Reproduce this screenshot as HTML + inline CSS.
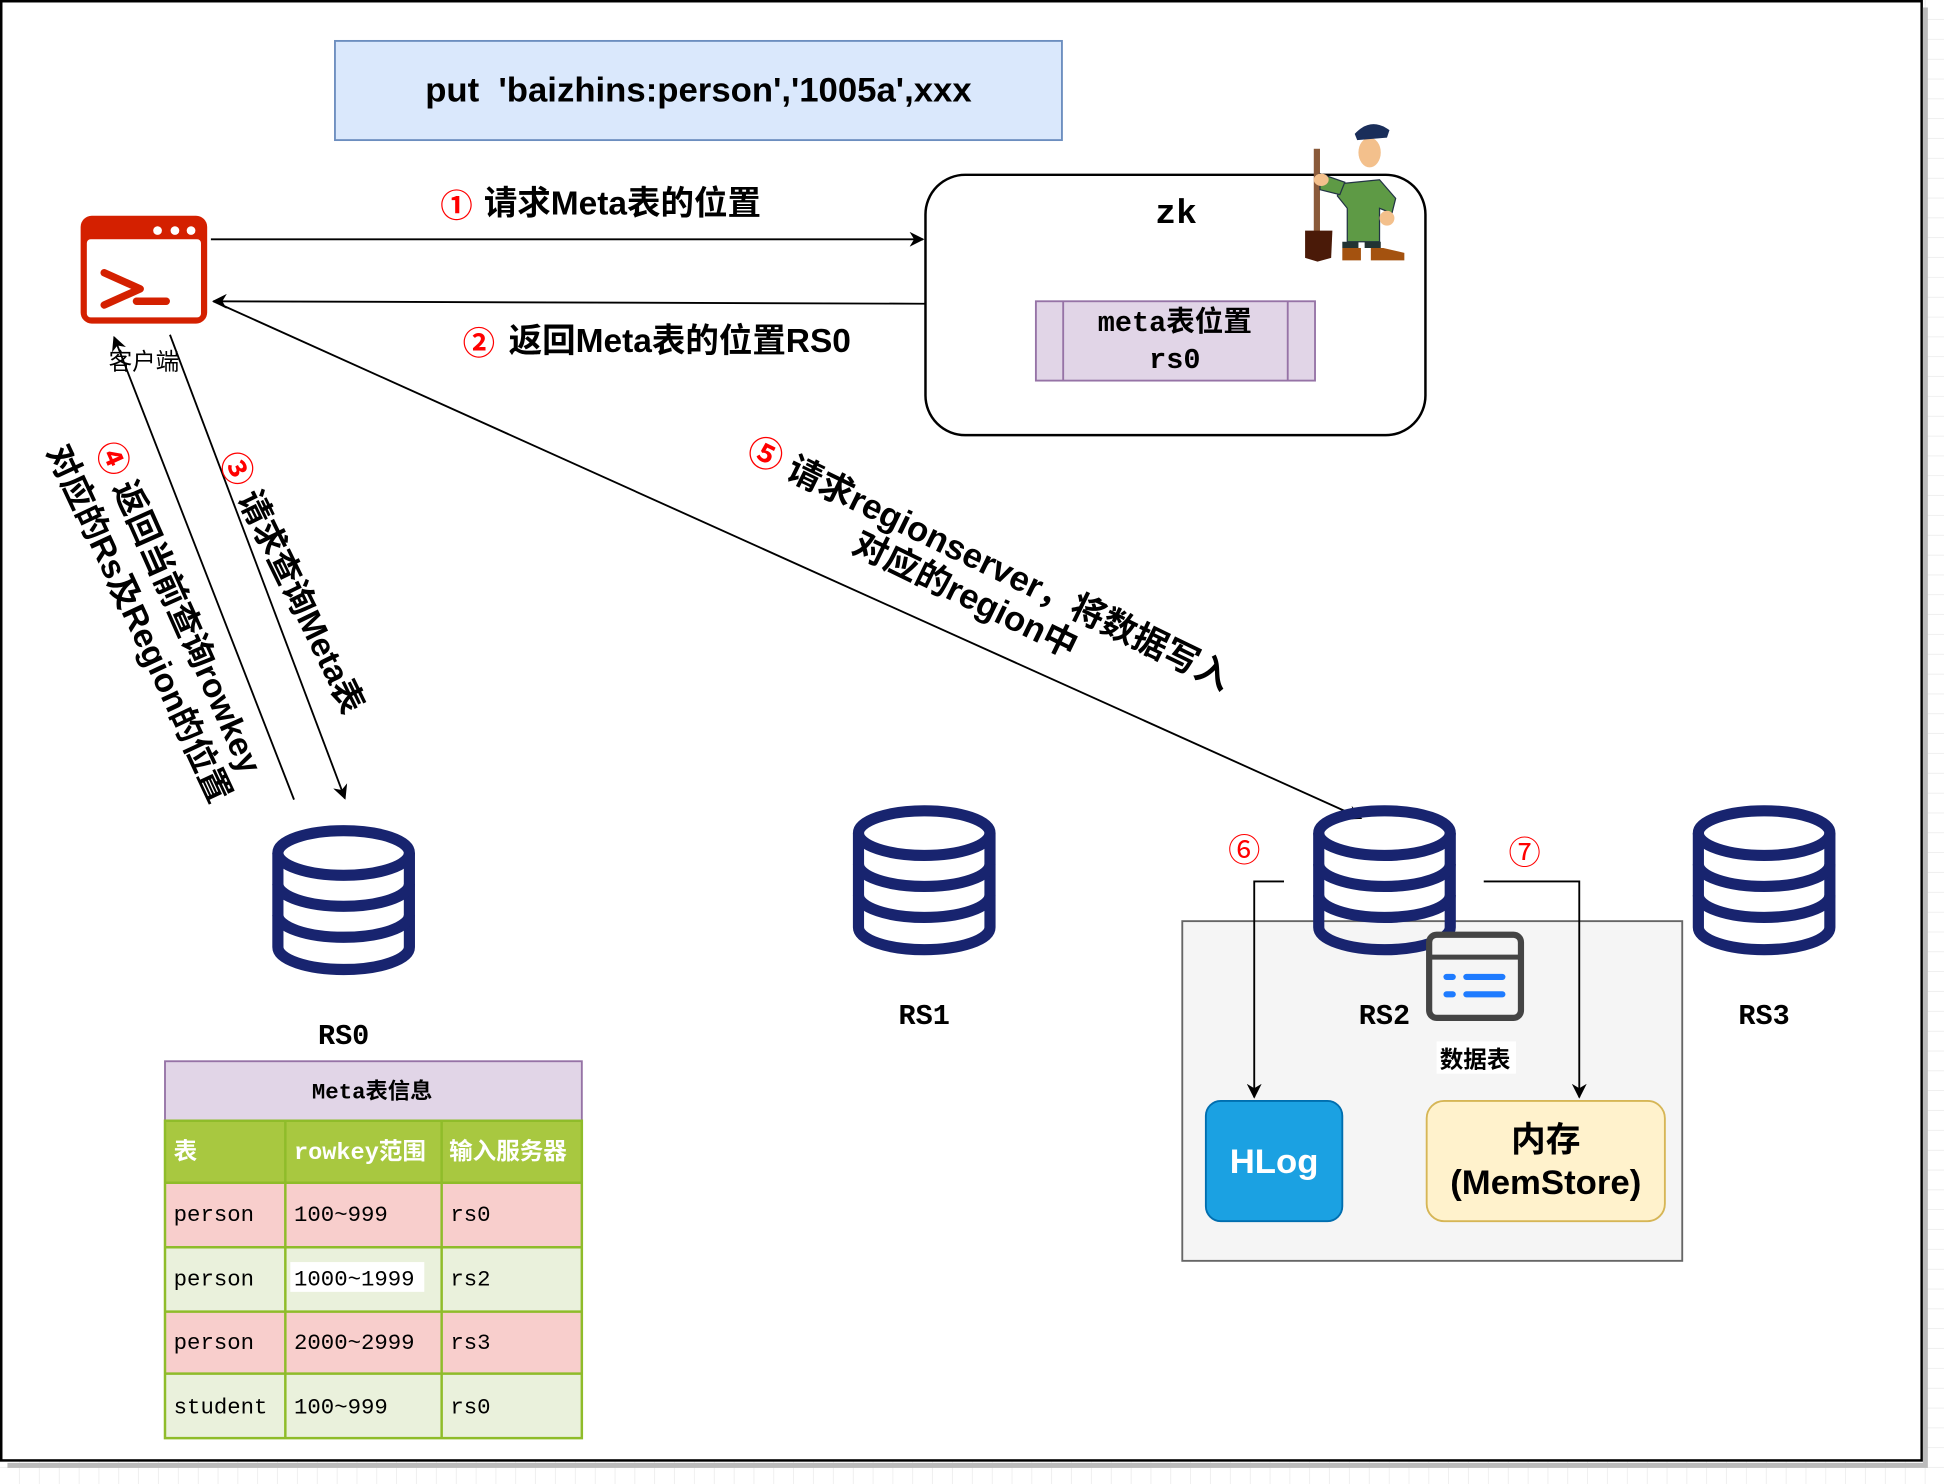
<!DOCTYPE html>
<html><head><meta charset="utf-8"><style>
html,body{margin:0;padding:0;background:#fff}
svg{display:block}
text{font-family:"Liberation Sans","Noto Sans CJK SC",sans-serif}
text.mono,.mono text{font-family:"Liberation Mono","Noto Sans CJK SC",monospace}
</style></head><body>
<svg width="1944" height="1484" viewBox="0 0 1567 1197" preserveAspectRatio="none" xmlns="http://www.w3.org/2000/svg">
<defs>
<pattern id="g" width="16" height="16" patternUnits="userSpaceOnUse"><path d="M16 0V16H0" fill="none" stroke="#e6e6e6" stroke-width="1"/></pattern>
<marker id="a" viewBox="0 0 10 10" refX="9" refY="5" markerWidth="8" markerHeight="8" orient="auto"><path d="M0 0L10 5L0 10L3 5z" fill="#000"/></marker>
<g id="db"><g fill="none" stroke="#18246f" stroke-width="9">
<ellipse cx="0" cy="-38" rx="53" ry="18"/>
<path d="M-53 -38V38A53 18 0 0 0 53 38V-38"/>
<path d="M-53 -13A53 18 0 0 0 53 -13"/>
<path d="M-53 12A53 18 0 0 0 53 12"/></g></g>
</defs>
<rect width="1567" height="1197" fill="url(#g)"/>
<rect x="1" y="1" width="1548" height="1177" fill="#fff" stroke="#000" stroke-width="2"/>
<path d="M1552 6V1182H6" fill="none" stroke="#bbb" stroke-width="4"/>

<rect x="270" y="33" width="586" height="80" fill="#dae8fc" stroke="#6c8ebf" stroke-width="1.5"/>
<text x="563" y="82" font-size="28" font-weight="bold" text-anchor="middle" xml:space="preserve">put  'baizhins:person','1005a',xxx</text>

<!-- terminal -->
<rect x="65" y="174" width="102" height="87" rx="9" fill="#d42000"/>
<rect x="70" y="193" width="92" height="63" rx="3" fill="#fff"/>
<circle cx="127" cy="186" r="3.5" fill="#fff"/><circle cx="141" cy="186" r="3.5" fill="#fff"/><circle cx="154" cy="186" r="3.5" fill="#fff"/>
<path d="M84 220L113 233L84 246" fill="none" stroke="#d42000" stroke-width="6" stroke-linecap="round" stroke-linejoin="round"/>
<path d="M110 243H134" stroke="#d42000" stroke-width="6" stroke-linecap="round"/>
<text x="116" y="298" font-size="19" text-anchor="middle">客户端</text>

<!-- zk -->
<rect x="746" y="141" width="403" height="210" rx="32" fill="#fff" stroke="#000" stroke-width="2"/>
<text x="948" y="180" class="mono" font-size="28" font-weight="bold" text-anchor="middle">zk</text>
<rect x="835" y="243" width="225" height="64" fill="#e1d5e7" stroke="#9673a6" stroke-width="1.5"/>
<path d="M857 243V307M1038 243V307" stroke="#9673a6" stroke-width="1.5"/>
<text x="947" y="267" class="mono" font-size="23" font-weight="bold" text-anchor="middle">meta表位置</text>
<text x="947" y="297" class="mono" font-size="23" font-weight="bold" text-anchor="middle">rs0</text>
<!-- zookeeper man -->
<g>
<rect x="1059" y="120" width="5" height="78" fill="#8a5a3a"/>
<path d="M1052 186H1074L1073 208L1062 211L1052 208Z" fill="#4a1a08"/>
<path d="M1082 148L1112 145L1125 160L1122 172L1112 168L1112 195H1086L1086 168L1078 158Z" fill="#5e9a45" stroke="#234" stroke-width="1"/>
<path d="M1064 140L1084 147L1080 157L1064 153Z" fill="#5e9a45" stroke="#234" stroke-width="1"/>
<ellipse cx="1065" cy="145" rx="6" ry="5" fill="#f3c08c"/>
<ellipse cx="1118" cy="176" rx="6" ry="6" fill="#f3c08c"/>
<ellipse cx="1104" cy="123" rx="9" ry="12" fill="#f3c08c"/>
<path d="M1092 108Q1105 94 1120 105L1118 111L1094 113Z" fill="#1a2e5a"/>
<path d="M1082 195H1095V200H1082ZM1100 195H1113V200H1100Z" fill="#233"/>
<path d="M1082 200L1097 200L1097 210L1082 210Z" fill="#a4520f"/>
<path d="M1105 200L1115 200L1132 204L1132 210L1105 210Z" fill="#a4520f"/>
</g>

<!-- arrows -->
<line x1="170" y1="193" x2="744" y2="193" stroke="#000" stroke-width="1.5" marker-end="url(#a)"/>
<line x1="746" y1="245" x2="172" y2="243" stroke="#000" stroke-width="1.5" marker-end="url(#a)"/>
<line x1="172" y1="243" x2="1097" y2="660" stroke="#000" stroke-width="1.5" marker-end="url(#a)"/>
<line x1="137" y1="270" x2="278" y2="644" stroke="#000" stroke-width="1.5" marker-end="url(#a)"/>
<line x1="237" y1="645" x2="92" y2="272" stroke="#000" stroke-width="1.5" marker-end="url(#a)"/>

<g font-size="27" font-weight="bold">
<text x="355" y="175" fill="#f00" font-size="26">①</text><text x="390" y="173">请求Meta表的位置</text>
<text x="373" y="286" fill="#f00" font-size="26">②</text><text x="410" y="284">返回Meta表的位置RS0</text>
<g transform="translate(235,470) rotate(64)"><text x="0" y="9" text-anchor="middle" font-size="27"><tspan fill="#f00">③</tspan> 请求查询Meta表</text></g>
<g transform="translate(144,490) rotate(66)"><text x="0" y="9" text-anchor="middle" font-size="27"><tspan fill="#f00">④</tspan> 返回当前查询rowkey</text></g>
<g transform="translate(112,503) rotate(65)"><text x="0" y="9" text-anchor="middle" font-size="27">对应的Rs及Region的位置</text></g>
<g transform="translate(797,455) rotate(26)"><text x="0" y="9" text-anchor="middle" font-size="28"><tspan fill="#f00">⑤</tspan> 请求regionserver，将数据写入</text></g>
<g transform="translate(778,480) rotate(26)"><text x="0" y="9" text-anchor="middle" font-size="28">对应的region中</text></g>
</g>

<!-- container -->
<rect x="953" y="743" width="403" height="274" fill="#f5f5f5" stroke="#666" stroke-width="1.5"/>

<use href="#db" x="277" y="726"/>
<use href="#db" x="745" y="710"/>
<use href="#db" x="1116" y="710"/>
<use href="#db" x="1422" y="710"/>
<g class="mono" font-size="23" font-weight="bold" text-anchor="middle">
<text x="277" y="842">RS0</text><text x="745" y="826">RS1</text><text x="1116" y="826">RS2</text><text x="1422" y="826">RS3</text>
</g>

<!-- data table icon -->
<rect x="1152" y="754" width="74" height="67" rx="6" fill="#f5f5f5" stroke="#444" stroke-width="5"/>
<line x1="1152" y1="772" x2="1226" y2="772" stroke="#444" stroke-width="4"/>
<g stroke="#1e7bff" stroke-width="5" stroke-linecap="round"><path d="M1166 788H1171M1182 788H1211M1166 802H1171M1182 802H1211"/></g>
<rect x="1158" y="840" width="64" height="26" fill="#fff"/>
<text x="1189" y="861" font-size="19" font-weight="bold" text-anchor="middle">数据表</text>

<text x="1003" y="695" fill="#f00" font-size="26" text-anchor="middle">⑥</text>
<text x="1229" y="697" fill="#f00" font-size="26" text-anchor="middle">⑦</text>
<path d="M1035 711H1011V885" fill="none" stroke="#000" stroke-width="1.5" marker-end="url(#a)"/>
<path d="M1196 711H1273V885" fill="none" stroke="#000" stroke-width="1.5" marker-end="url(#a)"/>

<rect x="972" y="888" width="110" height="97" rx="12" fill="#1ba1e2" stroke="#006eaf" stroke-width="1.5"/>
<text x="1027" y="946" font-size="28" font-weight="bold" fill="#fff" text-anchor="middle">HLog</text>
<rect x="1150" y="888" width="192" height="97" rx="14" fill="#fff2cc" stroke="#d6b656" stroke-width="1.5"/>
<text x="1246" y="929" font-size="28" font-weight="bold" text-anchor="middle">内存</text>
<text x="1246" y="963" font-size="28" font-weight="bold" text-anchor="middle">(MemStore)</text>

<!-- table -->
<rect x="133" y="856" width="336" height="48" fill="#e1d5e7" stroke="#9673a6" stroke-width="1.5"/>
<text x="300" y="886" class="mono" font-size="18" font-weight="bold" text-anchor="middle">Meta表信息</text>
<rect x="133" y="904" width="336" height="50" fill="#a8c840"/>
<rect x="133" y="954" width="336" height="52" fill="#f8cecc"/>
<rect x="133" y="1006" width="336" height="52" fill="#eaf1dc"/>
<rect x="133" y="1058" width="336" height="50" fill="#f8cecc"/>
<rect x="133" y="1108" width="336" height="52" fill="#eaf1dc"/>
<g stroke="#8fbc2a" stroke-width="2" fill="none">
<rect x="133" y="904" width="336" height="256"/>
<path d="M133 954H469M133 1006H469M133 1058H469M133 1108H469M230 904V1160M356 904V1160"/>
</g>
<g font-size="19" font-weight="bold" fill="#fff">
<text x="140" y="935">表</text><text x="237" y="935" class="mono">rowkey范围</text><text x="362" y="935">输入服务器</text>
</g>
<g class="mono" font-size="18">
<text x="140" y="985">person</text><text x="237" y="985">100~999</text><text x="363" y="985">rs0</text>
<rect x="234" y="1018" width="108" height="24" fill="#fff"/>
<text x="140" y="1037">person</text><text x="237" y="1037">1000~1999</text><text x="363" y="1037">rs2</text>
<text x="140" y="1088">person</text><text x="237" y="1088">2000~2999</text><text x="363" y="1088">rs3</text>
<text x="140" y="1140">student</text><text x="237" y="1140">100~999</text><text x="363" y="1140">rs0</text>
</g>
</svg>
</body></html>
